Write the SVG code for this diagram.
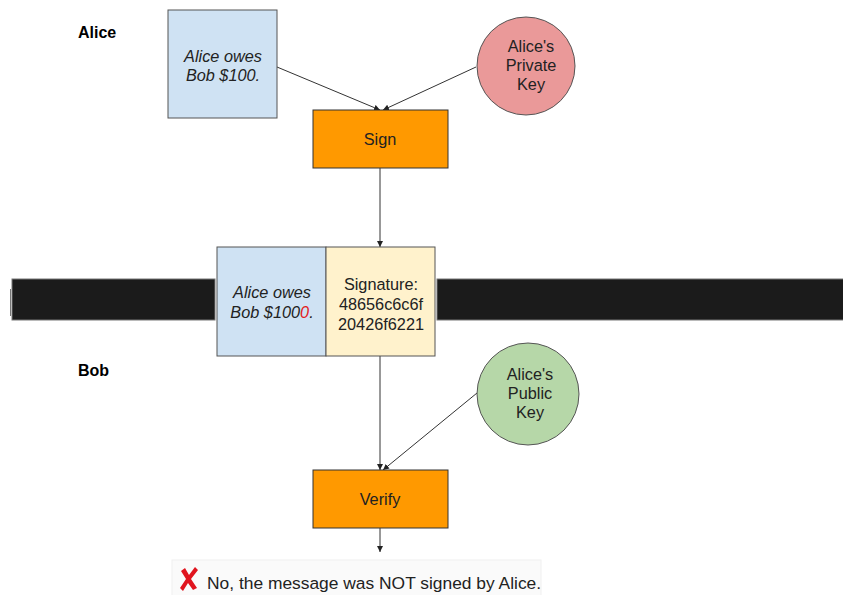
<svg xmlns="http://www.w3.org/2000/svg" width="843" height="595" viewBox="0 0 843 595">
  <style>
    text { font-family: "Liberation Sans", Arial, sans-serif; font-size: 16.3px; fill: #222; }
    .c { text-anchor: middle; }
    .it { font-style: italic; }
    .lbl { font-weight: bold; fill: #000; font-size: 16px; }
    .box { stroke: #555; stroke-width: 1; }
    .msg { fill: #cfe2f3; }
    .sig { fill: #fff2cc; }
    .op { fill: #ff9900; stroke: #333; stroke-width: 1; }
    .conn { stroke: #333; stroke-width: 1; fill: none; marker-end: url(#arr); }
  </style>
  <defs>
    <marker id="arr" markerWidth="8" markerHeight="8" refX="6" refY="3" orient="auto" markerUnits="userSpaceOnUse">
      <path d="M0,0 L6,3 L0,6 z" fill="#222"/>
    </marker>
  </defs>
  <rect width="843" height="595" fill="#fff"/>

  <!-- redaction bar across the channel -->
  <g id="channel">
    <rect x="12" y="279" width="203" height="41" fill="#1b1b1b" stroke="#777" stroke-width="1"/>
    <rect x="437" y="279" width="410" height="41" fill="#1b1b1b" stroke="#777" stroke-width="1"/>
    <line x1="10.5" y1="289" x2="10.5" y2="316" stroke="#777" stroke-width="1"/>
  </g>

  <!-- party labels -->
  <text id="alice-label" class="lbl" x="78" y="38">Alice</text>
  <text id="bob-label" class="lbl" x="78" y="376">Bob</text>

  <!-- connectors -->
  <g id="connectors">
    <line class="conn" x1="277" y1="67" x2="380" y2="110"/>
    <line class="conn" x1="476" y1="67" x2="383" y2="110"/>
    <line class="conn" x1="380" y1="168" x2="380" y2="247"/>
    <line class="conn" x1="380" y1="356" x2="380" y2="470"/>
    <line class="conn" x1="477" y1="393" x2="383" y2="470"/>
    <line class="conn" x1="380" y1="528" x2="380" y2="552"/>
  </g>

  <g id="message">
    <rect class="box msg" x="168" y="10" width="109" height="108"/>
    <text class="c it" x="223" y="62">Alice owes</text>
    <text class="c it" x="223" y="81">Bob $100.</text>
  </g>

  <g id="private-key">
    <circle cx="526" cy="66" r="49" fill="#ea9999" stroke="#555" stroke-width="1"/>
    <text class="c" x="531" y="52">Alice's</text>
    <text class="c" x="531" y="71">Private</text>
    <text class="c" x="531" y="90">Key</text>
  </g>

  <g id="sign">
    <rect class="op" x="313" y="110" width="135" height="58"/>
    <text class="c" x="380" y="145">Sign</text>
  </g>

  <g id="signed-message">
    <rect class="box msg" x="217" y="247" width="109" height="109"/>
    <rect class="box sig" x="326" y="247" width="109" height="109"/>
    <text class="c it" x="272" y="298">Alice owes</text>
    <text class="c it" x="272" y="318">Bob $100<tspan fill="#e32020">0</tspan>.</text>
    <text class="c" x="381" y="290">Signature:</text>
    <text class="c" x="381" y="310">48656c6c6f</text>
    <text class="c" x="381" y="330">20426f6221</text>
  </g>

  <g id="public-key">
    <circle cx="528" cy="394" r="51" fill="#b6d7a8" stroke="#555" stroke-width="1"/>
    <text class="c" x="530" y="380">Alice's</text>
    <text class="c" x="530" y="399">Public</text>
    <text class="c" x="530" y="418">Key</text>
  </g>

  <g id="verify">
    <rect class="op" x="313" y="470" width="135" height="58"/>
    <text class="c" x="380" y="505">Verify</text>
  </g>

  <g id="result">
    <rect x="172" y="560" width="369" height="36" fill="#fafafa" stroke="#f0f0f0" stroke-width="1"/>
    <path d="M181,571 L185,568 L189,575 L195,567 L198,570 L191,579 L197,588 L193,590 L188,583 L183,591 L180,588 L186,579 Z" fill="#e0141e"/>
    <text x="207" y="589" style="font-size:17.4px">No, the message was NOT signed by Alice.</text>
  </g>
</svg>
